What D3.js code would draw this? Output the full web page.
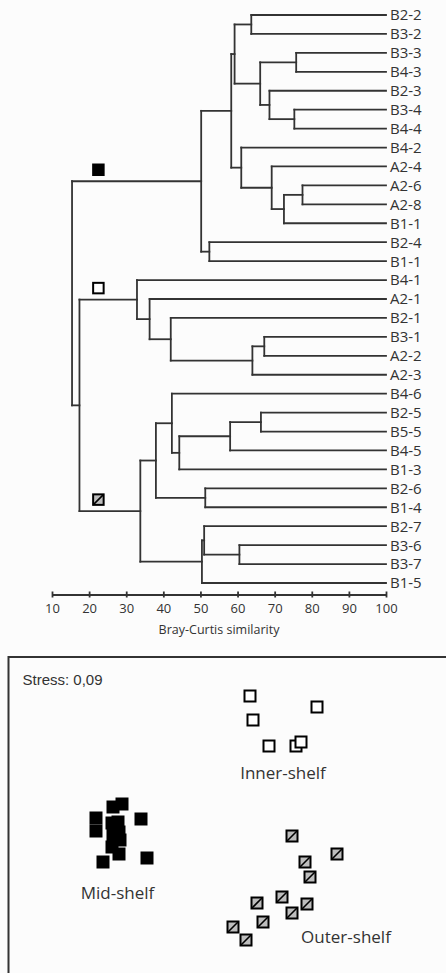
<!DOCTYPE html>
<html>
<head>
<meta charset="utf-8">
<script src="https://cdn.jsdelivr.net/npm/d3@7"></script>
<style>
  body { margin: 0; background: #fcfcfc; }
  svg { display: block; }
  .leaf { font-family: "Open Sans", sans-serif; font-size: 15px; fill: #333; }
  .tick text { font-family: "Open Sans", sans-serif; font-size: 13px; fill: #333; }
  .axisText { font-family: "Open Sans", sans-serif; font-size: 12.5px; fill: #333; }
  .groupText { font-family: "Open Sans", sans-serif; font-size: 17px; fill: #333; }
  .stress { font-family: "Liberation Sans", Arial, sans-serif; font-size: 15px; fill: #333; }
</style>
</head>
<body>
<div id="chart"></div>
<script>
// leaf order of the dendrogram, top to bottom
var leaves = ["B2-2", "B3-2", "B3-3", "B4-3", "B2-3", "B3-4", "B4-4", "B4-2",
  "A2-4", "A2-6", "A2-8", "B1-1", "B2-4", "B1-1", "B4-1", "A2-1", "B2-1",
  "B3-1", "A2-2", "A2-3", "B4-6", "B2-5", "B5-5", "B4-5", "B1-3", "B2-6",
  "B1-4", "B2-7", "B3-6", "B3-7", "B1-5"];

// merges: [left, right, similarity]; numbers = leaf index, "mN" = earlier merge
var merges = [
  [0, 1, 63.7],
  [2, 3, 75.8],
  [5, 6, 75.3],
  [4, "m2", 68.6],
  ["m1", "m3", 66.1],
  ["m0", "m4", 59.2],
  [9, 10, 77.5],
  ["m6", 11, 72.5],
  [8, "m7", 69.2],
  [7, "m8", 61.0],
  ["m5", "m9", 58.3],
  [12, 13, 52.4],
  ["m10", "m11", 50.2],
  [17, 18, 67.2],
  ["m13", 19, 64.0],
  [16, "m14", 42.0],
  [15, "m15", 36.3],
  [14, "m16", 32.9],
  [21, 22, 66.3],
  ["m18", 23, 58.0],
  ["m19", 24, 44.3],
  [20, "m20", 42.3],
  [25, 26, 51.3],
  ["m21", "m22", 38.0],
  [28, 29, 60.5],
  [27, "m24", 51.0],
  ["m25", 30, 50.4],
  ["m23", "m26", 33.8],
  ["m17", "m27", 17.4],
  ["m12", "m28", 15.4]
];

var simTicks = [10, 20, 30, 40, 50, 60, 70, 80, 90, 100];

// groups and the merge node that starts each one
var groupNames = ["Mid-shelf", "Inner-shelf", "Outer-shelf"];
var groupKeys = ["mid", "inner", "outer"];
var groupNodes = ["m12", "m17", "m27"];

// MDS ordination coordinates (arbitrary units)
var midX = [-1.14, -1.05, -1.31, -0.86, -1.31, -1.15, -1.09, -1.08, -1.07, -1.14, -1.15, -1.08, -1.24, -0.80];
var midY = [0.08, 0.11, -0.03, -0.04, -0.16, -0.08, -0.07, -0.17, -0.25, -0.20, -0.32, -0.39, -0.47, -0.43];
var innerX = [0.23, 0.90, 0.26, 0.42, 0.69, 0.74];
var innerY = [1.19, 1.08, 0.95, 0.69, 0.69, 0.73];
var outerX = [0.65, 1.10, 0.78, 0.83, 0.55, 0.80, 0.30, 0.65, 0.36, 0.06, 0.19];
var outerY = [-0.21, -0.39, -0.47, -0.62, -0.82, -0.89, -0.88, -0.98, -1.07, -1.12, -1.25];
var stressValue = "0,09";

var svgWidth = 446;
var svgHeight = 973;
var lineColor = "#333";

var svg = d3.select("#chart")
  .append("svg")
  .attr("width", svgWidth)
  .attr("height", svgHeight);

// ---------- dendrogram ----------
var xSim = d3.scaleLinear().domain([10, 100]).range([52, 386]);
var yLeaf = d3.scalePoint().domain(d3.range(leaves.length)).range([15, 583]);

var dendro = svg.append("g");
var nodeY = {};
var nodeX = {};

function posY(ref) { return typeof ref === "number" ? yLeaf(ref) : nodeY[ref]; }
function posX(ref) { return typeof ref === "number" ? xSim(100) : nodeX[ref]; }

merges.forEach(function(m, i) {
  var key = "m" + i;
  var x = xSim(m[2]);
  var y1 = posY(m[0]), y2 = posY(m[1]);
  nodeX[key] = x;
  nodeY[key] = (y1 + y2) / 2;
  // vertical join
  dendro.append("line")
    .attr("x1", x).attr("x2", x)
    .attr("y1", y1).attr("y2", y2);
  // horizontal branches to children
  [m[0], m[1]].forEach(function(c) {
    dendro.append("line")
      .attr("x1", x).attr("x2", posX(c))
      .attr("y1", posY(c)).attr("y2", posY(c));
  });
});
dendro.selectAll("line")
  .attr("stroke", lineColor)
  .attr("stroke-width", 1.8)
  .attr("stroke-linecap", "square");

dendro.selectAll("text.leaf")
  .data(leaves)
  .enter()
  .append("text")
  .attr("class", "leaf")
  .attr("x", xSim(100) + 4)
  .attr("y", function(d, i) { return yLeaf(i); })
  .attr("dy", "0.36em")
  .text(function(d) { return d; });

// square symbols
function drawSquare(g, cx, cy, type, size) {
  var h = size / 2;
  if (type === "mid") {
    g.append("rect")
      .attr("x", cx - h).attr("y", cy - h)
      .attr("width", size).attr("height", size)
      .attr("fill", "#000");
  } else {
    g.append("rect")
      .attr("x", cx - h + 1).attr("y", cy - h + 1)
      .attr("width", size - 2).attr("height", size - 2)
      .attr("fill", type === "inner" ? "#fff" : "#bdbdbd")
      .attr("stroke", "#000")
      .attr("stroke-width", 2);
    if (type === "outer") {
      g.append("line")
        .attr("x1", cx - h + 1).attr("y1", cy + h - 1)
        .attr("x2", cx + h - 1).attr("y2", cy - h + 1)
        .attr("stroke", "#000")
        .attr("stroke-width", 1.6);
    }
  }
}

groupNodes.forEach(function(n, i) {
  drawSquare(dendro, xSim(22.5), nodeY[n] - 11.5, groupKeys[i], 12.5);
});

// axis
var bottomAxis = d3.axisBottom(xSim)
  .tickValues(simTicks)
  .tickSizeOuter(0)
  .tickSizeInner(3)
  .tickPadding(6);

var axisG = svg.append("g")
  .attr("transform", "translate(0, 594.5)")
  .call(bottomAxis);
axisG.select(".domain").attr("stroke", lineColor).attr("stroke-width", 2);
axisG.selectAll(".tick line")
  .attr("y1", -3).attr("y2", 3)
  .attr("stroke", lineColor).attr("stroke-width", 1.8);
axisG.attr("font-family", null).attr("font-size", null);

svg.append("text")
  .attr("class", "axisText")
  .attr("x", xSim(55))
  .attr("y", 634)
  .attr("text-anchor", "middle")
  .text("Bray-Curtis similarity");

// ---------- MDS plot ----------
var mds = svg.append("g");
mds.append("rect")
  .attr("x", 8.5).attr("y", 657)
  .attr("width", 460).attr("height", 340)
  .attr("fill", "none")
  .attr("stroke", lineColor)
  .attr("stroke-width", 2);

mds.append("text")
  .attr("class", "stress")
  .attr("x", 22.5)
  .attr("y", 685)
  .text("Stress: " + stressValue);

var xMds = d3.scaleLinear().domain([-2.19, 2.19]).range([8, 446]);
var yMds = d3.scaleLinear().domain([-1.5, 1.5]).range([965, 665]);

var groupPoints = [
  { key: "mid", xs: midX, ys: midY },
  { key: "inner", xs: innerX, ys: innerY },
  { key: "outer", xs: outerX, ys: outerY }
];
groupPoints.forEach(function(gp) {
  gp.xs.forEach(function(v, i) {
    drawSquare(mds, xMds(v), yMds(gp.ys[i]), gp.key, 13);
  });
});

// group labels
var labelPos = { "Mid-shelf": [-1.095, -0.78], "Inner-shelf": [0.56, 0.42], "Outer-shelf": [1.19, -1.22] };
groupNames.forEach(function(name) {
  mds.append("text")
    .attr("class", "groupText")
    .attr("x", xMds(labelPos[name][0]))
    .attr("y", yMds(labelPos[name][1]))
    .attr("dy", "0.35em")
    .attr("text-anchor", "middle")
    .text(name);
});
</script>
</body>
</html>
